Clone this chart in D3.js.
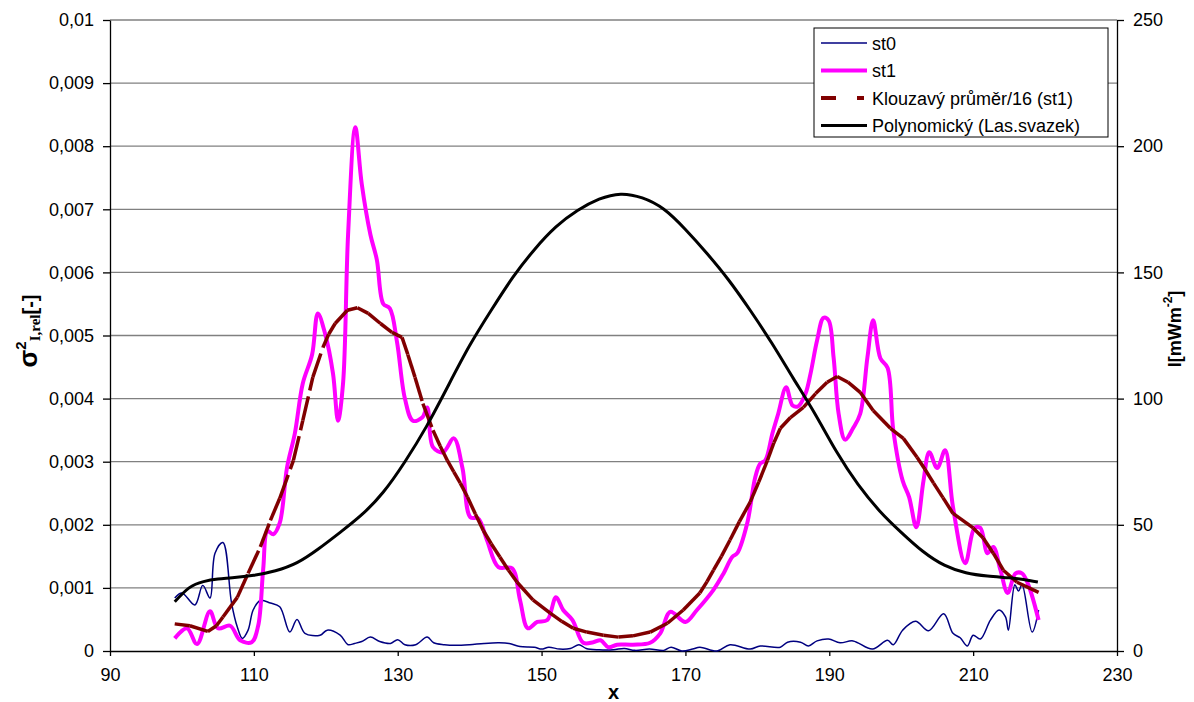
<!DOCTYPE html>
<html>
<head>
<meta charset="utf-8">
<script src="https://cdn.jsdelivr.net/npm/d3@7"></script>
<style>
  body { margin: 0; background: #fff; }
  text { font-family: "Liberation Sans", Arial, sans-serif; fill: #000; }
</style>
</head>
<body>
<div id="chart"></div>
<script>
const width = 1194;
const height = 702;
const margins = { top: 20, bottom: 51, left: 110, right: 77 };

// st0 (navy)
const st0X = [99, 100, 101.8, 102.9, 103.9, 104.6, 105.7, 106.9, 107.7, 108.4, 109.2, 109.9, 110.9, 112.3, 113.6, 115, 116, 117.1, 119.2, 120.2, 122, 123.1, 124, 125, 126.2, 127.5, 129, 130, 131, 132.5, 134.1, 135, 136.5, 138, 140, 142, 144, 145.5, 147, 149, 150, 151, 152.5, 154, 155.2, 156.2, 158, 160, 161.5, 163, 165, 167, 168, 169.5, 171, 172, 174.4, 176.2, 179, 180.4, 183.2, 184.2, 186, 187.1, 188.3, 189.9, 191.5, 193.3, 196, 198.1, 198.9, 200.2, 202, 203.8, 205.9, 207.2, 208.2, 209.2, 210, 211, 212.4, 213.6, 214.5, 214.9, 215.8, 216.3, 216.8, 218.2, 219.1];
const st0 = [0.00084, 0.00092, 0.00073, 0.00104, 0.00084, 0.00155, 0.00172, 0.00076, 0.00038, 0.0002, 0.00033, 0.00065, 0.0008, 0.00076, 0.0007, 0.0003, 0.0005, 0.00028, 0.00025, 0.00033, 0.00025, 0.0001, 0.00012, 0.00015, 0.00022, 0.00015, 0.00012, 0.00018, 0.0001, 0.0001, 0.00022, 0.00013, 0.0001, 0.00009, 0.0001, 0.00012, 0.00013, 0.00012, 0.00007, 0.00006, 0.00003, 0.00006, 0.00003, 0.00004, 0.0001, 0.00004, 0.00002, 0.00002, 0.00004, 0.00001, 0.00003, 0.00001, 0.00006, 0, 0.00003, 0.00006, 0, 0.0001, 0.00003, 0.00008, 0.00006, 0.00014, 0.00014, 0.00008, 0.00016, 0.00019, 0.00013, 0.00016, 0.00003, 0.00017, 0.0001, 0.00033, 0.00047, 0.00032, 0.00059, 0.00028, 0.00021, 0.00008, 0.00025, 0.00019, 0.00049, 0.00065, 0.00054, 0.00033, 0.00105, 0.00095, 0.00105, 0.0003, 0.00065];

// st1 (magenta)
const st1X = [99, 100.7, 102.1, 103.9, 105, 106.7, 108.1, 109.7, 110.6, 111.3, 111.9, 112.7, 113.6, 114.6, 115.7, 116.8, 118.1, 118.9, 119.9, 121, 121.7, 122.4, 123.1, 124.1, 125, 126.2, 127.1, 128, 128.9, 129.9, 131, 132.1, 133.4, 134.1, 134.9, 136.3, 137.8, 139, 140.1, 141.2, 142.4, 144, 145.9, 147, 148.1, 149.4, 150.8, 152, 153, 154.3, 155.8, 157.2, 158.2, 159.3, 160.5, 162.7, 165.1, 166.5, 167.9, 170, 171.6, 173.9, 175.3, 176.5, 177.2, 178.6, 179.7, 180.4, 181.1, 182.1, 182.9, 184, 184.9, 185.7, 186.7, 187.4, 188.3, 189.2, 189.9, 190.6, 191.3, 192.2, 193.3, 194.3, 195.3, 196.1, 197.1, 198.1, 198.9, 200.2, 201.1, 202.1, 203.1, 203.9, 205, 206.1, 207.2, 208.9, 210.2, 211, 212, 212.8, 213.8, 214.8, 215.9, 216.8, 217.7, 219.1];
const st1 = [0.0002, 0.00036, 0.00011, 0.00063, 0.00036, 0.0004, 0.00017, 0.00014, 0.0004, 0.0013, 0.0019, 0.00185, 0.00203, 0.0029, 0.00345, 0.00424, 0.0047, 0.00535, 0.00503, 0.0044, 0.00365, 0.00424, 0.0066, 0.0083, 0.0074, 0.0066, 0.0062, 0.0055, 0.00543, 0.0049, 0.004, 0.00365, 0.0037, 0.00386, 0.00323, 0.00315, 0.00337, 0.0029, 0.00212, 0.0021, 0.00176, 0.00133, 0.00131, 0.00081, 0.00036, 0.00046, 0.00049, 0.00085, 0.00065, 0.00049, 0.00013, 0.00014, 0.00017, 0.00006, 0.0001, 0.0001, 0.00013, 0.00028, 0.00062, 0.00046, 0.00065, 0.00097, 0.00123, 0.00149, 0.00155, 0.00203, 0.00275, 0.00297, 0.00302, 0.00345, 0.00376, 0.00418, 0.00389, 0.00388, 0.00408, 0.0044, 0.00492, 0.00528, 0.00524, 0.00465, 0.00376, 0.00335, 0.00353, 0.00376, 0.00465, 0.00524, 0.00464, 0.00449, 0.0035, 0.0027, 0.00244, 0.00196, 0.0027, 0.00315, 0.0029, 0.00318, 0.00228, 0.00139, 0.00195, 0.00195, 0.00155, 0.00165, 0.00128, 0.00092, 0.00123, 0.00123, 0.00104, 0.00049];

// Klouzavý průměr/16 (st1)
const maX = [99, 101.1, 103.6, 104.8, 105.7, 107.7, 109.2, 110.9, 112.3, 113.6, 115.5, 116.8, 118.2, 119.6, 120.4, 121.3, 123, 124.4, 125.9, 127.6, 129.2, 130.6, 131.4, 132.4, 133.5, 134.9, 135.9, 136.9, 137.8, 138.7, 139.7, 140.8, 141.9, 143, 144.2, 145.4, 146.6, 148.8, 151.2, 152.8, 154.4, 156.3, 158.6, 160.7, 162.7, 165.1, 167.5, 169.7, 172, 173, 173.9, 175, 176.2, 177.5, 179, 180.2, 181.4, 182.3, 183.2, 184.6, 186.4, 188.1, 189.7, 191.1, 192.6, 194.3, 196.1, 198.5, 200.3, 202.2, 203.3, 204.5, 205.8, 207.2, 210, 211.4, 212.8, 214.2, 216.1, 219.1];
const ma = [0.00043, 0.0004, 0.00031, 0.0004, 0.00054, 0.00085, 0.00123, 0.00165, 0.00207, 0.00242, 0.00302, 0.00365, 0.00434, 0.00481, 0.00502, 0.00519, 0.0054, 0.00544, 0.00535, 0.00519, 0.00505, 0.00497, 0.0047, 0.00434, 0.00392, 0.0035, 0.00325, 0.00302, 0.00284, 0.00266, 0.00244, 0.00217, 0.00191, 0.0017, 0.00149, 0.00128, 0.00109, 0.00081, 0.0006, 0.00047, 0.00036, 0.0003, 0.00025, 0.00022, 0.00024, 0.0003, 0.00044, 0.00065, 0.00092, 0.0011, 0.00128, 0.0015, 0.00176, 0.00205, 0.00236, 0.00268, 0.00302, 0.0033, 0.00353, 0.0037, 0.00386, 0.00408, 0.00426, 0.00435, 0.00426, 0.0041, 0.00381, 0.00353, 0.00337, 0.00307, 0.00288, 0.00266, 0.00243, 0.00218, 0.00195, 0.00179, 0.00155, 0.00128, 0.00109, 0.00093];

// Polynomický (Las.svazek), secondary axis [mWm-2]
const polyX = [99, 101, 103, 105, 107, 110, 113, 116, 119, 122, 125, 128, 131, 134, 137, 140, 143, 146, 149, 152, 155, 158, 161, 164, 167, 170, 173, 176, 179, 182, 185, 188, 191, 194, 197, 200, 203, 206, 209, 212, 215, 217, 219];
const poly = [19.5, 25, 27.5, 28.5, 29, 30, 31.8, 35, 40.5, 47, 54, 63, 75, 89, 105, 121, 135, 148, 159, 168, 174.5, 179, 181, 179.5, 175, 167, 157.5, 147, 135, 122, 108, 94, 79, 66, 55.5, 47, 39.5, 34, 31, 29.7, 29, 28.3, 27.3];

const xTicks = [90, 110, 130, 150, 170, 190, 210, 230];
const yTicks = [0, 0.001, 0.002, 0.003, 0.004, 0.005, 0.006, 0.007, 0.008, 0.009, 0.01];
const y2Ticks = [0, 50, 100, 150, 200, 250];
const legendNames = ["st0", "st1", "Klouzavý průměr/16 (st1)", "Polynomický (Las.svazek)"];

const xScale = d3.scaleLinear().domain([90, 230]).range([margins.left, width - margins.right]);
const yScale = d3.scaleLinear().domain([0, 0.01]).range([height - margins.bottom, margins.top]);
const y2Scale = d3.scaleLinear().domain([0, 250]).range([height - margins.bottom, margins.top]);

const svg = d3.select("#chart").append("svg").attr("width", width).attr("height", height);

// GRIDLINES
svg.append("g")
  .selectAll("line")
  .data(yTicks.slice(1))
  .join("line")
  .attr("x1", margins.left)
  .attr("x2", width - margins.right)
  .attr("y1", (d) => yScale(d))
  .attr("y2", (d) => yScale(d))
  .attr("stroke", "#808080")
  .attr("stroke-width", 1.3);

// AXES
const fmt = (d) => (d === 0 ? "0" : d3.format(".3~f")(d).replace(".", ","));
const styleAxis = (g) => {
  g.select(".domain").attr("stroke", "#000").attr("stroke-width", 1.3);
  g.selectAll(".tick line").attr("stroke", "#000").attr("stroke-width", 1.3);
  g.selectAll(".tick text").attr("font-size", 18).attr("font-family", '"Liberation Sans", Arial, sans-serif').attr("fill", "#000");
};

svg.append("g")
  .attr("transform", `translate(${margins.left},0)`)
  .call(d3.axisLeft(yScale).tickValues(yTicks).tickFormat(fmt).tickSize(7).tickSizeOuter(0).tickPadding(9))
  .call(styleAxis);

svg.append("g")
  .attr("transform", `translate(${width - margins.right},0)`)
  .call(d3.axisRight(y2Scale).tickValues(y2Ticks).tickSize(7).tickSizeOuter(0).tickPadding(9))
  .call(styleAxis);

svg.append("g")
  .attr("transform", `translate(0,${height - margins.bottom})`)
  .call(d3.axisBottom(xScale).tickValues(xTicks).tickSize(5).tickSizeOuter(0).tickPadding(12))
  .call(styleAxis);

// SERIES
const pts = (xs, ys) => xs.map((x, i) => [x, ys[i]]);
const line1 = d3.line().x((d) => xScale(d[0])).y((d) => yScale(d[1])).curve(d3.curveCatmullRom.alpha(0.5));
const line2 = d3.line().x((d) => xScale(d[0])).y((d) => y2Scale(d[1])).curve(d3.curveNatural);
const segLine = d3.line().x((d) => xScale(d[0])).y((d) => yScale(d[1]));

svg.append("path")
  .attr("d", line1(pts(st0X, st0)))
  .attr("fill", "none")
  .attr("stroke", "#000080")
  .attr("stroke-width", 1.5);

svg.append("path")
  .attr("d", line1(pts(st1X, st1)))
  .attr("fill", "none")
  .attr("stroke", "#FF00FF")
  .attr("stroke-width", 4)
  .attr("stroke-linejoin", "round");

// moving average: dash pattern restarts on every segment, so only long steep ones show a gap
const maPts = pts(maX, ma);
svg.append("g")
  .selectAll("path")
  .data(d3.pairs(maPts))
  .join("path")
  .attr("d", (d) => segLine(d))
  .attr("fill", "none")
  .attr("stroke", "#800000")
  .attr("stroke-width", 3.5)
  .attr("stroke-linecap", "butt")
  .attr("stroke-dasharray", "25,6");

svg.append("path")
  .attr("d", line2(pts(polyX, poly)))
  .attr("fill", "none")
  .attr("stroke", "#000")
  .attr("stroke-width", 3);

// AXIS LABELS
const leftLabel = svg.append("text")
  .attr("transform", "translate(37,331) rotate(-90)")
  .attr("text-anchor", "middle")
  .attr("font-weight", "bold");
leftLabel.append("tspan").attr("font-size", 26).text("σ");
leftLabel.append("tspan").attr("font-size", 15).attr("dy", -11).text("2");
leftLabel.append("tspan").attr("font-size", 15).attr("font-family", '"Liberation Serif", "Times New Roman", serif').attr("dy", 14).text("I,rel");
leftLabel.append("tspan").attr("font-size", 20).attr("dy", -3).text("[-]");

const rightLabel = svg.append("text")
  .attr("transform", "translate(1181,329) rotate(-90)")
  .attr("text-anchor", "middle")
  .attr("font-weight", "bold")
  .attr("font-size", 18);
rightLabel.append("tspan").text("I[mWm");
rightLabel.append("tspan").attr("font-size", 12).attr("dy", -9).text("-2");
rightLabel.append("tspan").attr("dy", 9).text("]");

svg.append("text")
  .text("x")
  .attr("x", (margins.left + width - margins.right) / 2)
  .attr("y", 699)
  .attr("text-anchor", "middle")
  .attr("font-weight", "bold")
  .attr("font-size", 20);

// LEGEND
const legend = svg.append("g").attr("transform", "translate(814,28)");
legend.append("rect")
  .attr("width", 294)
  .attr("height", 109)
  .attr("fill", "#fff")
  .attr("stroke", "#000")
  .attr("stroke-width", 1);

const legendStyles = [
  { color: "#000080", w: 1.5, dash: null },
  { color: "#FF00FF", w: 4, dash: null },
  { color: "#800000", w: 4, dash: "15,21,7,100" },
  { color: "#000", w: 3, dash: null },
];
const rows = legend.selectAll("g.row")
  .data(legendNames)
  .join("g")
  .attr("class", "row")
  .attr("transform", (d, i) => `translate(0,${15 + i * 27.5})`);
rows.append("line")
  .attr("x1", 7)
  .attr("x2", 53)
  .attr("stroke", (d, i) => legendStyles[i].color)
  .attr("stroke-width", (d, i) => legendStyles[i].w)
  .attr("stroke-dasharray", (d, i) => legendStyles[i].dash);
rows.append("text")
  .text((d) => d)
  .attr("x", 58)
  .attr("y", 6.5)
  .attr("font-size", 18);
</script>
</body>
</html>
